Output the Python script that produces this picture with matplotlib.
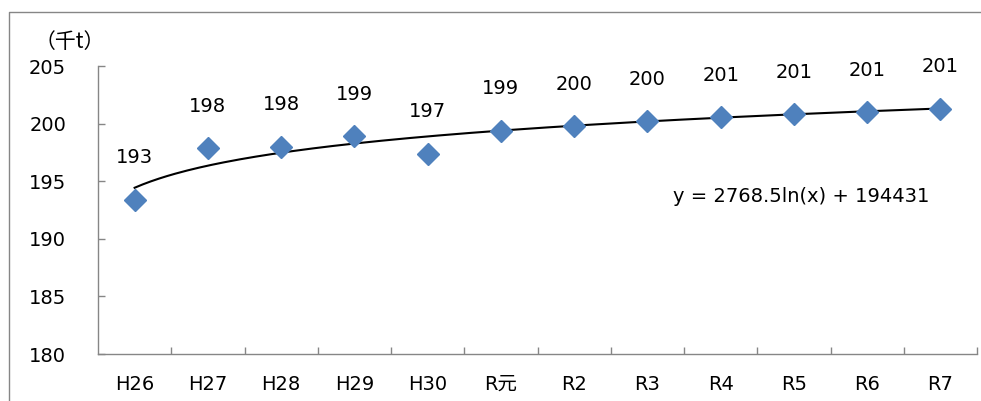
import numpy as np
import matplotlib
matplotlib.use('Agg')
import matplotlib.pyplot as plt
from matplotlib.lines import Line2D

plt.rcParams['font.family'] = ['DejaVu Sans', 'Noto Sans CJK JP']

# データ（千t）
years = ['H26', 'H27', 'H28', 'H29', 'H30', 'R元', 'R2', 'R3', 'R4', 'R5', 'R6', 'R7']
values = [193.4, 197.9, 198.0, 198.9, 197.4, 199.4, 199.8, 200.2, 200.6, 200.8, 201.0, 201.3]
# 近似曲線 y = a ln(x) + b（t単位）
trend_a = 2768.5
trend_b = 194431
trend_text = 'y = 2768.5ln(x) + 194431'
yticks = [180, 185, 190, 195, 200, 205]

gray = '#868686'
blue = '#4F81BD'

fig = plt.figure(figsize=(9.81, 4.01), dpi=100)
# 外枠（左と上）
fl = 8.5/981
ft = 1 - 11.5/401
fig.lines.append(Line2D([fl, fl, 1.0], [0, ft, ft], transform=fig.transFigure, c=gray, lw=1.0))
ax = fig.add_axes([98/981, 1-354/401, 879/981, 288/401])

x = np.arange(1, len(years)+1)
xx = np.linspace(1, len(years), 200)
ax.plot(xx, (trend_a*np.log(xx) + trend_b)/1000, c='black', lw=1.5, zorder=2)
ax.plot(x, values, ls='none', marker='D', ms=11.5, mfc=blue, mec=blue, zorder=3)
for xi, v in zip(x, values):
    ax.annotate('%.0f' % v, (xi, v), xytext=(0, 30), textcoords='offset points',
                ha='center', va='center', fontsize=14)

ax.text(673/981, 1-202/401, trend_text, transform=fig.transFigure, fontsize=14, ha='left', va='baseline')

ax.set_xlim(0.5, len(years)+0.5)
ax.set_ylim(180, 205)
ax.set_xticks(x)
ax.set_xticklabels(years, fontsize=14)
ax.set_xticks(np.arange(1.5, len(years)+1, 1), minor=True)
ax.set_yticks(yticks)
ax.set_yticklabels([str(t) for t in yticks], fontsize=14)
ax.tick_params(axis='x', which='minor', length=5, direction='in', color=gray, width=1.0)
ax.tick_params(axis='x', which='major', length=0)
ax.tick_params(axis='x', which='major', pad=15)
ax.tick_params(axis='y', length=5, direction='in', color=gray, width=1.0)
ax.tick_params(axis='y', pad=23)
ax.spines[['top', 'right']].set_visible(False)
ax.spines[['left', 'bottom']].set_color(gray)
ax.spines[['left', 'bottom']].set_linewidth(1.0)

fig.text(70/981, 1-42/401, '（千t）', fontsize=15, ha='center', va='center',
         family=['Noto Sans CJK JP', 'DejaVu Sans'])

plt.savefig('out.png', dpi=100)
